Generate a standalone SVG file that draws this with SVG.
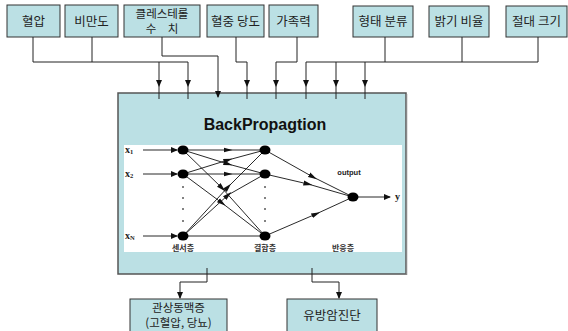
<svg xmlns="http://www.w3.org/2000/svg" width="568" height="331" viewBox="0 0 568 331">
<style>
.box{fill:#BBE0E4;stroke:#333;stroke-width:1}
.t{font-family:"Noto Sans CJK KR","Noto Sans",sans-serif;font-size:12.5px;fill:#222;text-anchor:middle}
.t2{font-family:"Noto Sans CJK KR","Noto Sans",sans-serif;font-size:11.5px;fill:#222;text-anchor:middle}
.c{fill:none;stroke:#222;stroke-width:1}
.g{fill:none;stroke:#111;stroke-width:0.9}
.s{font-family:"Liberation Serif",serif;font-size:10px;font-weight:bold;fill:#222}
.k{font-family:"Noto Sans CJK KR",sans-serif;font-size:8px;font-weight:bold;fill:#333;text-anchor:middle}
</style>
<defs>
<marker id="ah" markerWidth="7" markerHeight="7" refX="6" refY="3.5" orient="auto" markerUnits="userSpaceOnUse">
<path d="M0,0.5 L7,3.5 L0,6.5 Z" fill="#111"/>
</marker>
<marker id="mh" markerWidth="9" markerHeight="6" refX="4.5" refY="3" orient="auto" markerUnits="userSpaceOnUse">
<path d="M0,0.5 L9,3 L0,5.5 Z" fill="#111"/>
</marker>
</defs>
<rect width="568" height="331" fill="#fff"/>

<g id="n-bp"><rect class="box" x="7" y="5" width="53" height="32"/><text class="t" x="33.5" y="26">혈압</text></g>
<g id="n-bmi"><rect class="box" x="65" y="5" width="53" height="32"/><text class="t" x="91.5" y="26">비만도</text></g>
<g id="n-chol"><rect class="box" x="124" y="5" width="76" height="32"/><text class="t2" x="162" y="18">클레스테롤</text><text class="t2" x="162" y="33">수　치</text></g>
<g id="n-glu"><rect class="box" x="207" y="5" width="57" height="32"/><text class="t" x="235.5" y="26">혈중 당도</text></g>
<g id="n-fam"><rect class="box" x="269" y="5" width="49" height="32"/><text class="t" x="293.5" y="26">가족력</text></g>
<g id="n-shape"><rect class="box" x="353" y="6" width="60" height="31"/><text class="t" x="383" y="26">형태 분류</text></g>
<g id="n-bright"><rect class="box" x="429" y="6" width="60" height="31"/><text class="t" x="459" y="26">밝기 비율</text></g>
<g id="n-size"><rect class="box" x="506" y="6" width="61" height="31"/><text class="t" x="536.5" y="26">절대 크기</text></g>

<g id="n-main">
<rect x="118" y="93" width="288" height="181" fill="#BBE0E4" stroke="#555" stroke-width="1.5"/>
<line x1="406.5" y1="94" x2="406.5" y2="275" stroke="#888" stroke-width="1.5"/>
<text x="265" y="130" font-family="Liberation Sans,Arial,sans-serif" font-size="16" font-weight="bold" fill="#111" text-anchor="middle">BackPropagtion</text>
<rect x="124" y="145" width="278" height="107" fill="#fff"/>
<g class="g">
<line x1="143" y1="150" x2="177" y2="150" marker-end="url(#ah)"/>
<line x1="143" y1="174" x2="177" y2="174" marker-end="url(#ah)"/>
<line x1="143" y1="236" x2="177" y2="236" marker-end="url(#ah)"/>
<path d="M183,150 L228,150" marker-end="url(#mh)"/><path d="M228,150 L265,150"/>
<path d="M183,150 L228,164" marker-end="url(#mh)"/><path d="M228,164 L265,174"/>
<path d="M183,150 L222,188" marker-end="url(#mh)"/><path d="M222,188 L265,236"/>
<path d="M183,174 L228,160" marker-end="url(#mh)"/><path d="M228,160 L265,150"/>
<path d="M183,174 L228,174" marker-end="url(#mh)"/><path d="M228,174 L265,174"/>
<path d="M183,174 L222,203" marker-end="url(#mh)"/><path d="M222,203 L265,236"/>
<path d="M183,236 L228,187" marker-end="url(#mh)"/><path d="M228,187 L265,150"/>
<path d="M183,236 L228,195" marker-end="url(#mh)"/><path d="M228,195 L265,174"/>
<path d="M183,236 L265,236"/>
<path d="M265,150 L313,177" marker-end="url(#mh)"/><path d="M313,177 L353,197"/>
<path d="M265,174 L308,184" marker-end="url(#mh)"/><path d="M308,184 L353,197"/>
<path d="M265,236 L316,214" marker-end="url(#mh)"/><path d="M316,214 L353,197"/>
<line x1="353" y1="197" x2="390" y2="197" marker-end="url(#ah)"/>
</g>
<g fill="#000">
<ellipse cx="183" cy="150" rx="5.5" ry="4.5"/><ellipse cx="183" cy="174" rx="5.5" ry="4.5"/><ellipse cx="183" cy="236" rx="5.5" ry="4.5"/>
<ellipse cx="265" cy="150" rx="5.5" ry="4.5"/><ellipse cx="265" cy="174" rx="5.5" ry="4.5"/><ellipse cx="265" cy="236" rx="5.5" ry="4.5"/>
<ellipse cx="353" cy="197" rx="5.5" ry="4.5"/>
<rect x="182.3" y="186.3" width="1.4" height="1.4"/><rect x="182.3" y="197.3" width="1.4" height="1.4"/><rect x="182.3" y="208.3" width="1.4" height="1.4"/><rect x="182.3" y="220.3" width="1.4" height="1.4"/>
<rect x="264.3" y="186.3" width="1.4" height="1.4"/><rect x="264.3" y="197.3" width="1.4" height="1.4"/><rect x="264.3" y="208.3" width="1.4" height="1.4"/><rect x="264.3" y="220.3" width="1.4" height="1.4"/>
</g>
<text class="s" x="125" y="153">x<tspan font-size="6.5" dy="1">1</tspan></text>
<text class="s" x="125" y="177">x<tspan font-size="6.5" dy="1">2</tspan></text>
<text class="s" x="125" y="239">x<tspan font-size="6.5" dy="1">N</tspan></text>
<text class="s" x="395" y="200">y</text>
<text x="349" y="175" font-family="Liberation Sans,Arial,sans-serif" font-size="7.5" font-weight="bold" fill="#222" text-anchor="middle">output</text>
<text class="k" x="183" y="251">센서층</text>
<text class="k" x="265" y="251">결합층</text>
<text class="k" x="343" y="251">반응층</text>
</g>

<g id="n-cad"><rect class="box" x="130" y="299" width="97" height="34"/><text class="t2" x="178.5" y="312">관상동맥증</text><text class="t2" x="178.5" y="327">(고혈압, 당뇨)</text></g>
<g id="n-breast"><rect class="box" x="287" y="299" width="90" height="34"/><text class="t" x="332" y="320">유방암진단</text></g>

<g id="connectors" class="c">
<path d="M33,37 V62 H188"/>
<path d="M92,37 V62"/>
<path d="M159,62 V86" marker-end="url(#ah)"/><path d="M159,86 V99"/>
<path d="M188,62 V86" marker-end="url(#ah)"/><path d="M188,86 V99"/>
<path d="M162,37 V56 H218 V97" marker-end="url(#ah)"/>
<path d="M236,37 V62 H247 V86" marker-end="url(#ah)"/><path d="M247,86 V99"/>
<path d="M297,37 V62 H276 V86" marker-end="url(#ah)"/><path d="M276,86 V99"/>
<path d="M385,37 V62"/><path d="M462,37 V62"/>
<path d="M538,37 V62 H306"/>
<path d="M306,62 V86" marker-end="url(#ah)"/><path d="M306,86 V99"/>
<path d="M336,62 V86" marker-end="url(#ah)"/><path d="M336,86 V99"/>
<path d="M365,62 V86" marker-end="url(#ah)"/><path d="M365,86 V99"/>
<path d="M207,268 V282 H180 V298" marker-end="url(#ah)"/>
<path d="M312,268 V282 H339 V298" marker-end="url(#ah)"/>
</g>
</svg>
